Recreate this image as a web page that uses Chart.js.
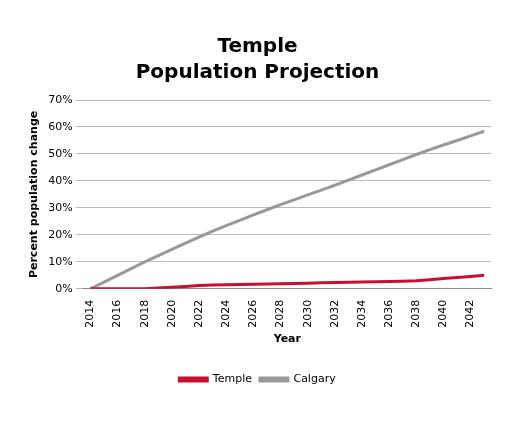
<!DOCTYPE html>
<html><head><meta charset="utf-8">
<script src="https://cdn.jsdelivr.net/npm/chart.js@4"></script>
<style>body{margin:0;background:#fff}#w{width:509px;height:425px}</style>
</head><body><div id="w"><canvas id="c"></canvas></div>
<script>
const years=[2014,2015,2016,2017,2018,2019,2020,2021,2022,2023,2024,2025,2026,2027,2028,2029,2030,2031,2032,2033,2034,2035,2036,2037,2038,2039,2040,2041,2042,2043];
const temple=[0,0,0,0,0,0.3,0.6,0.9,1.2,1.4,1.5,1.6,1.7,1.8,1.9,2.0,2.1,2.2,2.3,2.4,2.5,2.6,2.7,2.8,3.0,3.4,3.8,4.2,4.6,5.0];
const calgary=[0,2.5,5,7.5,10,12.3,14.6,16.9,19.2,21.4,23.4,25.4,27.4,29.3,31.2,33.0,34.8,36.6,38.4,40.3,42.2,44.1,46.0,47.9,49.8,51.6,53.3,55.0,56.7,58.4];
const yTicks=[0,10,20,30,40,50,60,70];
const F='DejaVu Sans';
new Chart(document.getElementById('c'),{type:'line',
data:{datasets:[
{label:'Temple',data:years.map((y,i)=>({x:y,y:temple[i]})),borderColor:'#c8102e',backgroundColor:'#c8102e',borderWidth:3,pointRadius:0},
{label:'Calgary',data:years.map((y,i)=>({x:y,y:calgary[i]})),borderColor:'#999999',backgroundColor:'#999999',borderWidth:3,pointRadius:0}]},
options:{responsive:true,maintainAspectRatio:false,animation:false,
layout:{padding:{left:24,right:18,top:34,bottom:30}},
plugins:{title:{display:true,text:['Temple','Population Projection'],font:{family:F,size:20,weight:'bold',lineHeight:1.3},color:'#000',padding:{bottom:14}},
legend:{position:'bottom',labels:{boxWidth:28,boxHeight:3,font:{family:F,size:11},color:'#000',padding:8}}},
scales:{x:{type:'linear',min:2013.5,max:2043.5,
afterBuildTicks:a=>{a.ticks=years.filter(y=>y%2===0).map(v=>({value:v}));},
ticks:{minRotation:90,maxRotation:90,font:{family:F,size:11},color:'#000',callback:v=>String(v)},
grid:{display:false},border:{color:'#888'},
title:{display:true,text:'Year',font:{family:F,size:11,weight:'bold'},color:'#000',padding:{top:2,bottom:20}}},
y:{min:0,max:70,afterBuildTicks:a=>{a.ticks=yTicks.map(v=>({value:v}));},
ticks:{font:{family:F,size:11},color:'#000',callback:v=>v+'%'},
grid:{color:'#bbb'},border:{display:false},
title:{display:true,text:'Percent population change',font:{family:F,size:11,weight:'bold'},color:'#000',padding:{bottom:4}}}}}});
</script></body></html>
